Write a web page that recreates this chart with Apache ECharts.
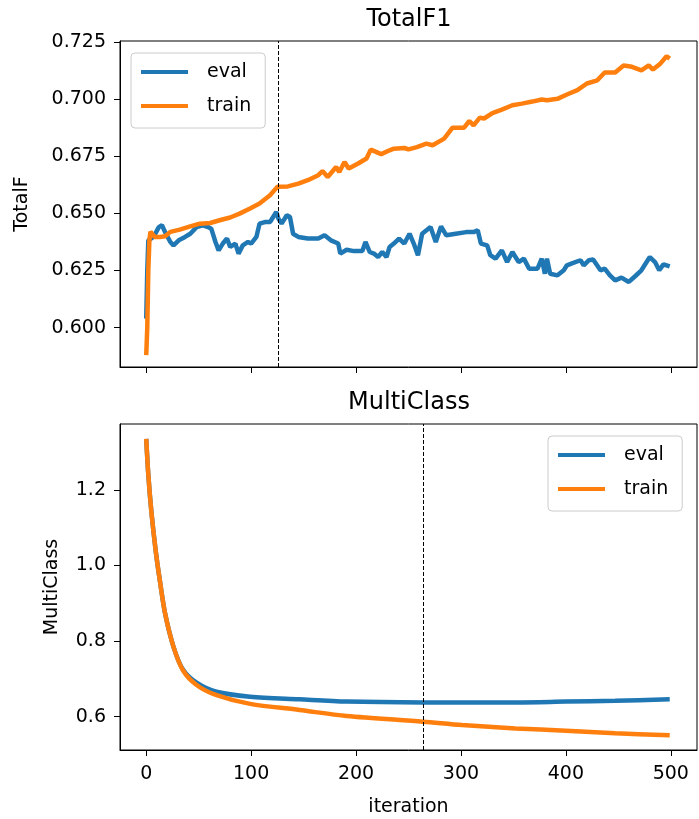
<!DOCTYPE html>
<html>
<head>
<meta charset="utf-8">
<script src="https://cdn.jsdelivr.net/npm/echarts@6/dist/echarts.min.js"></script>
<style>
  html, body { margin: 0; padding: 0; background: #fff; }
  #chart { width: 699px; height: 819px; }
</style>
</head>
<body>
<div id="chart"></div>
<script>
// TotalF1 panel
const f1EvalIter = [0, 1, 2, 7, 12, 15, 18, 23, 26, 31, 37, 42, 48, 54, 59, 62, 66, 69, 73, 77, 80, 85, 88, 92, 97, 100,
  105, 108, 113, 118, 121, 124, 126, 129, 134, 137, 140, 145, 154, 164, 170, 176, 183, 185, 191, 198, 206, 209, 213,
  217, 221, 225, 229, 232, 236, 241, 246, 251, 255, 259, 263, 271, 276, 281, 286, 295, 305, 312, 316, 319, 325, 328,
  333, 339, 344, 349, 355, 360, 365, 373, 377, 380, 382, 385, 392, 398, 401, 407, 414, 417, 422, 426, 433, 437, 442,
  447, 453, 460, 466, 472, 475, 480, 485, 489, 493, 499];
const f1Eval = [0.604, 0.625, 0.6382, 0.6397, 0.644, 0.6448, 0.6418, 0.6375, 0.636, 0.6382, 0.6397, 0.6411, 0.644,
  0.6448, 0.644, 0.6433, 0.6375, 0.6338, 0.6368, 0.639, 0.6353, 0.6368, 0.6324, 0.636, 0.6375, 0.6368, 0.6397, 0.6455,
  0.6462, 0.6462, 0.6484, 0.6506, 0.6477, 0.6455, 0.6492, 0.6484, 0.6411, 0.6397, 0.639, 0.639, 0.6404, 0.6382, 0.6368,
  0.6324, 0.6341, 0.6335, 0.6335, 0.6375, 0.6331, 0.6324, 0.6309, 0.6331, 0.6309, 0.6353, 0.6368, 0.639, 0.6368, 0.6411,
  0.6368, 0.6317, 0.6411, 0.644, 0.6375, 0.6443, 0.6404, 0.6411, 0.6418, 0.6418, 0.6426, 0.6368, 0.636, 0.6317, 0.6302,
  0.6338, 0.6287, 0.6331, 0.6287, 0.6302, 0.6258, 0.6258, 0.6302, 0.6236, 0.6302, 0.6236, 0.6229, 0.6251, 0.6273,
  0.6283, 0.6295, 0.6273, 0.6295, 0.6298, 0.6251, 0.6258, 0.6229, 0.6207, 0.6219, 0.62, 0.6225, 0.6251, 0.6273, 0.6309,
  0.6287, 0.6251, 0.6277, 0.6268];

const f1TrainIter = [0, 1, 2, 3, 4, 8, 13, 18, 23, 32, 42, 51, 61, 70, 80, 89, 99, 108, 118, 125, 135, 145, 154, 164,
  168, 173, 181, 184, 189, 193, 202, 210, 214, 224, 232, 236, 246, 250, 258, 267, 273, 284, 292, 298, 303, 308, 312,
  318, 322, 330, 339, 349, 358, 368, 377, 382, 392, 401, 411, 420, 430, 437, 447, 455, 463, 472, 479, 483, 490, 496, 499];
const f1Train = [0.588, 0.6, 0.625, 0.638, 0.642, 0.6397, 0.6397, 0.64, 0.6419, 0.6429, 0.6443, 0.6455, 0.6458, 0.647,
  0.6482, 0.6499, 0.6521, 0.6543, 0.6579, 0.6616, 0.6618, 0.663, 0.6645, 0.6667, 0.6685, 0.6659, 0.6703, 0.6681, 0.6725,
  0.6696, 0.6718, 0.674, 0.6779, 0.6759, 0.6776, 0.6783, 0.6786, 0.678, 0.679, 0.6805, 0.6798, 0.6827, 0.6875, 0.6875,
  0.6875, 0.6904, 0.6885, 0.6919, 0.6915, 0.6939, 0.6954, 0.6973, 0.698, 0.6989, 0.6998, 0.6995, 0.7001, 0.702, 0.7039,
  0.7068, 0.7082, 0.7116, 0.7116, 0.7147, 0.7141, 0.7126, 0.7147, 0.7129, 0.7155, 0.7187, 0.7177];

// MultiClass panel
const lossIter = [0, 2, 5, 9, 13, 18, 26, 35, 48, 67, 99, 146, 191, 264, 301, 352, 400, 447, 499];
const lossEval = [1.335, 1.24, 1.14, 1.04, 0.96, 0.873, 0.785, 0.725, 0.69, 0.666, 0.653, 0.646, 0.64, 0.638, 0.638,
  0.638, 0.64, 0.642, 0.646];
const lossTrain = [1.335, 1.24, 1.14, 1.04, 0.96, 0.873, 0.785, 0.723, 0.684, 0.657, 0.634, 0.618, 0.602, 0.587, 0.578,
  0.569, 0.563, 0.556, 0.551];

const xTicks = [0, 100, 200, 300, 400, 500];
const f1Ticks = [0.6, 0.625, 0.65, 0.675, 0.7, 0.725];
const lossTicks = [0.6, 0.8, 1.0, 1.2];
const bestIterF1 = 126;
const bestIterLoss = 264;

const BLUE = '#1f77b4';
const ORANGE = '#ff7f0e';
const FONT = 'DejaVu Sans';

function zip(xs, ys) {
  return xs.map((x, i) => [x, ys[i]]);
}

const chart = echarts.init(document.getElementById('chart'));

function xAxisCfg(idx, labels) {
  return {
    type: 'value', gridIndex: idx, min: -25, max: 525,
    name: labels ? 'iteration' : '', nameLocation: 'middle', nameGap: 48,
    nameTextStyle: { fontFamily: FONT, fontSize: 19, color: '#000' },
    axisLine: { show: true, onZero: false, lineStyle: { color: '#000', width: 1 } },
    axisTick: { show: true, length: 6, customValues: xTicks, lineStyle: { color: '#000' } },
    axisLabel: { show: labels, customValues: xTicks, margin: 15, fontFamily: FONT, fontSize: 19, color: '#000' },
    splitLine: { show: false }
  };
}

function yAxisCfg(idx, min, max, ticks, digits, name, gap) {
  return {
    type: 'value', gridIndex: idx, min: min, max: max,
    name: name, nameLocation: 'middle', nameGap: gap, nameRotate: 90,
    nameTextStyle: { fontFamily: FONT, fontSize: 19, color: '#000' },
    axisLine: { show: true, onZero: false, lineStyle: { color: '#000', width: 1 } },
    axisTick: { show: true, length: 6, customValues: ticks, lineStyle: { color: '#000' } },
    axisLabel: {
      customValues: ticks, margin: 14, fontFamily: FONT, fontSize: 19, color: '#000',
      formatter: v => v.toFixed(digits)
    },
    splitLine: { show: false }
  };
}

function legendCfg(left, top) {
  return {
    left: left, top: top, orient: 'vertical',
    data: ['eval', 'train'],
    icon: 'rect', itemWidth: 47, itemHeight: 4, itemGap: 14,
    padding: [9, 14, 12, 10],
    backgroundColor: '#fff', borderColor: '#ccc', borderWidth: 1, borderRadius: 4,
    textStyle: { fontFamily: FONT, fontSize: 19, color: '#000', lineHeight: 20, padding: [0, 0, 0, 14] }
  };
}

function vline(iter) {
  return {
    silent: true, symbol: ['none', 'none'], label: { show: false },
    lineStyle: { color: '#000', type: [4, 2], width: 1 },
    data: [{ xAxis: iter }]
  };
}

function lineSeries(name, color, grid, data, smooth, markLine) {
  const s = {
    name: name, type: 'line', xAxisIndex: grid, yAxisIndex: grid,
    data: data, showSymbol: false, symbol: 'none', smooth: smooth,
    lineStyle: { color: color, width: 4.5 }, itemStyle: { color: color },
    emphasis: { disabled: true }
  };
  if (markLine) s.markLine = markLine;
  return s;
}

const option = {
  animation: false,
  backgroundColor: '#fff',
  title: [
    { text: 'TotalF1', left: 409, top: 8, textAlign: 'center', padding: 0,
      textStyle: { fontFamily: FONT, fontSize: 24, fontWeight: 'normal', color: '#000' } },
    { text: 'MultiClass', left: 409, top: 391, textAlign: 'center', padding: 0,
      textStyle: { fontFamily: FONT, fontSize: 24, fontWeight: 'normal', color: '#000' } }
  ],
  legend: [legendCfg(131, 53), legendCfg(548, 436)],
  grid: [
    { left: 120, top: 41, width: 577, height: 326, show: true, borderColor: '#000', borderWidth: 1, containLabel: false },
    { left: 120, top: 424, width: 577, height: 326, show: true, borderColor: '#000', borderWidth: 1, containLabel: false }
  ],
  xAxis: [xAxisCfg(0, false), xAxisCfg(1, true)],
  yAxis: [
    yAxisCfg(0, 0.5828, 0.7254, f1Ticks, 3, 'TotalF', 88),
    yAxisCfg(1, 0.512, 1.3745, lossTicks, 1, 'MultiClass', 58)
  ],
  series: [
    lineSeries('eval', BLUE, 0, zip(f1EvalIter, f1Eval), false, vline(bestIterF1)),
    lineSeries('train', ORANGE, 0, zip(f1TrainIter, f1Train), false),
    lineSeries('eval', BLUE, 1, zip(lossIter, lossEval), 0.3, vline(bestIterLoss)),
    lineSeries('train', ORANGE, 1, zip(lossIter, lossTrain), 0.3)
  ]
};

chart.setOption(option);
</script>
</body>
</html>
